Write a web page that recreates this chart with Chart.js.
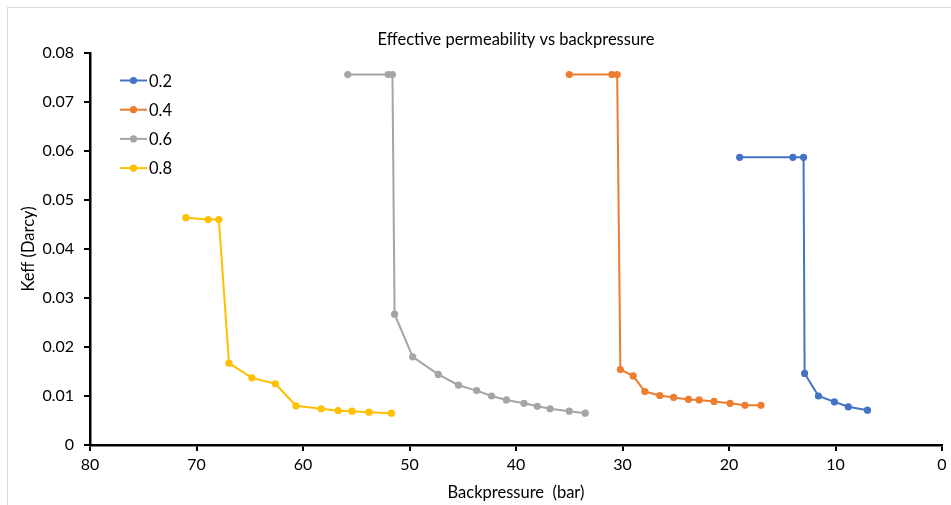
<!DOCTYPE html>
<html>
<head>
<meta charset="utf-8">
<title>Effective permeability vs backpressure</title>
<script src="https://cdn.jsdelivr.net/npm/chart.js@4/dist/chart.umd.min.js"></script>
<style>
  html, body { margin:0; padding:0; background:#fff; }
  #wrap { width:951px; height:505px; position:relative; }
</style>
</head>
<body>
<div id="wrap"><canvas id="chart" width="951" height="505"></canvas></div>
<script>
// Backpressure (bar) and Keff (Darcy) per series
const labels = ['0.2', '0.4', '0.6', '0.8'];
const colors = ['#4472C4', '#ED7D31', '#A5A5A5', '#FFC000'];

const p02 = [19.0, 14.0, 13.0, 12.9, 11.6, 10.1, 8.8, 7.0];
const k02 = [0.0587, 0.0587, 0.0587, 0.0146, 0.0100, 0.0088, 0.0078, 0.0071];

const p04 = [35.0, 31.0, 30.5, 30.2, 29.0, 27.9, 26.5, 25.2, 23.8, 22.8, 21.4, 19.9, 18.5, 17.0];
const k04 = [0.0756, 0.0756, 0.0756, 0.0154, 0.0141, 0.0109, 0.0101, 0.0097, 0.0093, 0.0092, 0.0089, 0.0085, 0.0081, 0.0081];

const p06 = [55.8, 52.0, 51.6, 51.4, 49.7, 47.3, 45.4, 43.7, 42.3, 40.9, 39.25, 38.0, 36.8, 35.0, 33.5];
const k06 = [0.0756, 0.0756, 0.0756, 0.0267, 0.0180, 0.0144, 0.0122, 0.0111, 0.0100, 0.0092, 0.0085, 0.0079, 0.0074, 0.0069, 0.0065];

const p08 = [71.0, 68.9, 67.9, 66.95, 64.8, 62.6, 60.66, 58.3, 56.7, 55.4, 53.8, 51.7];
const k08 = [0.0464, 0.0460, 0.0460, 0.0167, 0.0137, 0.0125, 0.0080, 0.0074, 0.0070, 0.0069, 0.0067, 0.0065];

const xTicks = [80, 70, 60, 50, 40, 30, 20, 10, 0];
const yTicks = [0, 0.01, 0.02, 0.03, 0.04, 0.05, 0.06, 0.07, 0.08];

const FONT = 'Lato, "Open Sans", sans-serif';
const series = [[p02, k02], [p04, k04], [p06, k06], [p08, k08]];

const toPts = (xs, ys) => xs.map((x, i) => ({ x, y: ys[i] }));

const datasets = series.map(([xs, ys], i) => ({
  label: labels[i],
  data: toPts(xs, ys),
  showLine: true,
  borderColor: colors[i],
  backgroundColor: colors[i],
  borderWidth: 2,
  pointRadius: 3.6,
  pointBorderWidth: 0,
  pointHoverRadius: 4,
  tension: 0,
}));

// legend drawn inside the plot, top-left, like the spreadsheet one
const innerLegend = {
  id: 'innerLegend',
  afterDatasetsDraw(chart) {
    const { ctx, chartArea } = chart;
    ctx.save();
    ctx.font = '16.5px ' + FONT;
    ctx.textBaseline = 'middle';
    ctx.textAlign = 'left';
    labels.forEach((lab, i) => {
      const y = chartArea.top + 27.5 + i * 29.2;
      const x0 = chartArea.left + 30, x1 = chartArea.left + 57;
      ctx.strokeStyle = colors[i];
      ctx.lineWidth = 2;
      ctx.beginPath(); ctx.moveTo(x0, y); ctx.lineTo(x1, y); ctx.stroke();
      ctx.fillStyle = colors[i];
      ctx.beginPath(); ctx.arc((x0 + x1) / 2, y, 3.6, 0, Math.PI * 2); ctx.fill();
      ctx.fillStyle = '#000';
      ctx.fillText(lab, x1 + 2, y + 1);
    });
    ctx.restore();
  }
};

// thin grey frame of the chart area
const frame = {
  id: 'frame',
  beforeDraw(chart) {
    const { ctx } = chart;
    ctx.save();
    ctx.fillStyle = '#fff';
    ctx.fillRect(0, 0, chart.width, chart.height);
    ctx.strokeStyle = '#d9d9d9';
    ctx.lineWidth = 1;
    ctx.strokeRect(7.5, 7.5, chart.width, chart.height);
    ctx.restore();
  }
};

new Chart(document.getElementById('chart'), {
  type: 'scatter',
  data: { datasets },
  plugins: [frame, innerLegend],
  options: {
    responsive: false,
    animation: false,
    layout: { padding: { left: 0, right: 9, top: 0, bottom: 0 } },
    plugins: {
      legend: { display: false },
      tooltip: { enabled: false },
      title: {
        display: true,
        fullSize: false,
        text: 'Effective permeability vs backpressure',
        color: '#000',
        font: { family: FONT, size: 16.5, weight: 'normal' },
        padding: { top: 30, bottom: 3.2 },
      },
    },
    scales: {
      x: {
        type: 'linear',
        reverse: true,
        min: 0, max: 80,
        afterBuildTicks: s => { s.ticks = xTicks.map(v => ({ value: v })); },
        afterFit: s => { s.height = 60; },
        ticks: {
          color: '#000',
          font: { family: FONT, size: 16 },
          padding: 4,
          maxRotation: 0,
        },
        grid: { display: true, drawOnChartArea: false, drawTicks: true, tickLength: 6, color: '#000', lineWidth: 2 },
        border: { display: true, color: '#000', width: 2.5 },
        title: {
          display: true,
          text: 'Backpressure  (bar)',
          color: '#000',
          font: { family: FONT, size: 16.5 },
          padding: { top: 0, bottom: 2 },
        },
      },
      y: {
        min: 0, max: 0.08,
        afterBuildTicks: s => { s.ticks = yTicks.map(v => ({ value: v })); },
        afterFit: s => { s.width = 90; },
        ticks: {
          color: '#000',
          font: { family: FONT, size: 16 },
          padding: 10,
          callback: v => (v === 0 ? '0' : v.toFixed(2)),
        },
        grid: { display: true, drawOnChartArea: false, drawTicks: true, tickLength: 6, color: '#000', lineWidth: 2 },
        border: { display: true, color: '#000', width: 2.5 },
        title: {
          display: true,
          text: 'Keff (Darcy)',
          color: '#000',
          font: { family: FONT, size: 16.5 },
          padding: { top: 18.5, bottom: 0 },
        },
      },
    },
  },
});
</script>
</body>
</html>
